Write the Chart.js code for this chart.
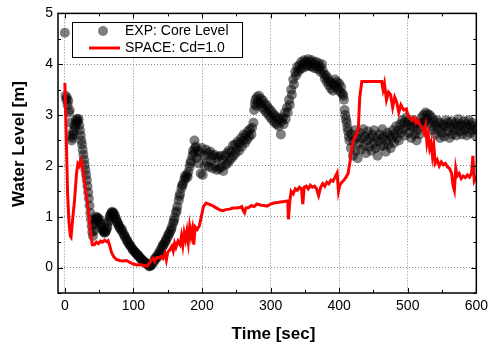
<!DOCTYPE html>
<html><head><meta charset="utf-8">
<script src="https://cdn.jsdelivr.net/npm/chart.js@4/dist/chart.umd.min.js"></script>
<style>html,body{margin:0;padding:0;background:#fff}#c{display:block}</style>
</head><body>
<canvas id="c" width="493" height="344"></canvas>
<script>
const xTicks = [0, 100, 200, 300, 400, 500, 600];
const yTicks = [0, 1, 2, 3, 4, 5];
const seriesNames = ['EXP: Core Level', 'SPACE: Cd=1.0'];
const axisTitles = ['Time [sec]', 'Water Level [m]'];

const expTime = [
  0,1,2,3,4,5,6,7,8,9,10,11,12,13,14,15,16,17,18,19,20,21,22,23,24,25,26,27,28,29,30,31,32,33,34,35,36,37,38,39,40,41,
  42,43,44,45,46,47,48,49,50,51,52,53,54,55,56,57,58,59,60,61,62,63,64,65,66,67,68,69,70,71,72,73,74,75,76,77,78,79,80,
  82,83,84,86,87,88,90,91,92,94,95,96,98,99,100,102,103,104,106,107,108,110,111,112,114,115,116,118,119,120,122,123,124,125,126,
  128,130,131,132,134,135,136,138,139,140,142,143,144,146,147,148,150,151,152,154,155,156,158,159,160,162,163,164,166,167,168,170,171,172,174,175,176,178,179,180,182,183,184,186,187,188,189,190,
  191,192,194,195,197,198,200,201,203,204,206,207,209,210,212,213,215,216,218,219,221,222,224,225,227,228,230,231,233,234,236,237,239,240,242,243,245,246,248,249,251,252,254,255,257,258,260,261,263,264,266,267,269,270,272,273,275,
  276,277,278,279,280,282,283,285,286,288,289,291,292,294,295,297,298,300,301,303,304,306,307,309,310,312,313,315,316,318,319,321,322,324,325,327,328,330,331,333,334,336,337,339,340,342,343,345,346,348,349,351,352,354,355,357,358,360,361,363,364,366,367,369,370,372,373,375,376,378,379,381,382,384,385,387,388,390,391,393,394,396,397,399,400,402,403,405,406,407,408,409,410,411,412,413,414,415,
  417,418,420,421,423,424,426,427,429,430,432,433,435,436,438,439,441,442,444,445,447,448,450,451,453,454,456,457,459,460,462,463,465,466,468,469,471,472,474,475,477,478,480,481,483,484,486,487,489,490,
  492,493,495,496,498,499,501,502,504,505,507,508,510,511,513,514,516,517,519,520,522,523,525,526,528,529,531,532,534,535,537,538,540,541,543,544,546,547,549,550,552,553,555,556,558,559,561,562,564,565,567,568,570,571,573,574,576,577,579,580,582,583,585,586,588,589,591,592,594,595,597,598,600
];
const expLevel = [
  4.62,3.38,3.30,3.34,3.20,3.28,3.05,3.10,2.85,2.60,2.50,2.55,2.68,2.62,2.80,2.75,2.90,2.85,2.93,2.88,2.92,2.80,2.70,2.60,2.50,2.42,2.32,2.22,2.12,2.02,1.92,1.82,1.72,1.60,1.48,1.36,1.22,1.08,0.95,0.82,0.70,0.62,
  0.72,0.85,0.90,0.95,1.00,0.97,0.98,0.93,0.95,0.88,0.86,0.80,0.78,0.74,0.72,0.70,0.68,0.70,0.72,0.76,0.80,0.88,0.92,0.98,1.02,1.05,1.08,1.10,1.07,1.08,1.02,1.03,0.96,0.95,0.90,0.88,0.84,0.82,0.78,
  0.74,0.76,0.70,0.66,0.62,0.60,0.55,0.53,0.50,0.46,0.44,0.42,0.38,0.35,0.34,0.31,0.29,0.28,0.25,0.24,0.22,0.19,0.17,0.16,0.14,0.12,0.11,0.09,0.08,0.07,0.05,0.02,0.03,0.05,0.04,
  0.08,0.12,0.18,0.16,0.22,0.20,0.26,0.31,0.28,0.36,0.40,0.45,0.44,0.50,0.52,0.56,0.60,0.65,0.66,0.72,0.75,0.80,0.88,0.92,0.98,1.08,1.12,1.20,1.32,1.40,1.45,1.56,1.62,1.64,1.72,1.80,1.76,1.82,1.78,1.88,1.98,2.05,2.10,2.20,2.30,2.25,2.50,2.35,
  2.38,2.15,2.30,2.05,2.25,1.85,2.35,1.82,2.20,2.00,2.32,2.08,2.25,1.98,2.28,2.10,2.20,1.95,2.22,2.00,2.15,1.92,2.18,1.95,2.20,1.98,2.12,1.90,2.20,2.02,2.25,2.05,2.30,2.10,2.28,2.15,2.40,2.20,2.42,2.25,2.35,2.48,2.30,2.45,2.55,2.38,2.50,2.62,2.45,2.60,2.52,2.68,2.58,2.72,2.62,2.75,2.85,
  3.10,3.22,3.30,3.18,3.35,3.25,3.38,3.22,3.32,3.15,3.28,3.10,3.22,3.05,3.18,3.00,3.12,2.95,3.08,2.90,3.02,2.85,2.98,2.82,2.95,2.78,2.92,2.62,2.88,2.95,2.82,3.05,2.92,3.15,3.05,3.30,3.20,3.50,3.40,3.70,3.60,3.85,3.78,3.95,3.85,3.98,3.90,4.05,3.92,4.00,4.08,3.95,4.05,3.98,4.10,3.96,4.04,4.08,3.95,4.02,3.92,4.05,3.96,3.90,4.02,3.95,3.85,4.00,3.88,3.80,3.72,3.78,3.65,3.72,3.58,3.65,3.52,3.62,3.48,3.58,3.70,3.55,3.65,3.50,3.62,3.45,3.55,3.42,3.38,3.30,3.10,3.00,2.92,2.85,2.75,2.68,2.58,2.50,
  2.35,2.62,2.20,2.48,2.70,2.30,2.55,2.15,2.45,2.65,2.32,2.55,2.72,2.40,2.58,2.25,2.50,2.68,2.38,2.55,2.30,2.62,2.45,2.70,2.35,2.55,2.20,2.48,2.62,2.38,2.55,2.72,2.40,2.58,2.28,2.50,2.65,2.42,2.60,2.35,2.55,2.70,2.45,2.62,2.78,2.55,2.70,2.50,2.82,2.65,
  2.90,2.72,2.85,2.60,2.95,2.78,2.88,2.65,2.80,2.55,2.75,2.90,2.62,2.80,2.50,2.70,2.85,2.62,2.78,2.95,2.85,3.00,2.88,3.05,2.92,3.02,2.85,3.00,2.78,2.95,2.70,2.88,2.62,2.80,2.90,2.72,2.85,2.55,2.75,2.65,2.82,2.58,2.78,2.90,2.68,2.85,2.55,2.75,2.88,2.62,2.80,2.70,2.85,2.60,2.78,2.92,2.68,2.82,2.62,2.78,2.88,2.70,2.82,2.60,2.75,2.90,2.65,2.80,2.85,2.70,2.78,2.60,2.72
];

const spaceTime = [0,2,4,6,8,9,11,14,17,19,21,23,25,28,31,34,37,40,43,46,49,52,55,58,61,63,65,68,71,75,80,85,90,95,100,105,110,115,120,123,126,129,131,134,137,140,143,146,148,150,153,156,158,160,162,165,168,170,172,174,176,178,180,182,184,186,188,190,193,196,199,202,206,210,215,220,225,230,235,240,245,250,255,258,260,262,264,268,272,276,280,285,290,295,300,305,310,315,320,325,326,328,330,333,336,339,342,345,347,349,352,355,358,361,364,367,370,373,376,379,382,385,388,391,394,397,399,401,404,407,410,413,416,419,422,425,428,430,433,440,450,458,462,464,466,469,472,475,478,481,484,487,490,494,498,500,503,506,509,512,515,518,521,524,526,528,530,532,534,536,538,540,543,546,549,552,555,558,561,564,566,568,570,572,575,578,581,584,587,590,593,595,597,599,600];
const spaceLevel = [3.63,2.60,1.45,0.90,0.62,0.60,0.90,1.31,1.85,2.04,2.00,2.12,2.05,1.77,1.45,1.15,0.75,0.45,0.45,0.50,0.47,0.52,0.50,0.54,0.51,0.53,0.45,0.30,0.22,0.16,0.14,0.13,0.14,0.10,0.07,0.05,0.06,0.04,0.03,0.08,0.15,0.18,0.12,0.20,0.19,0.22,0.18,0.28,0.15,0.30,0.35,0.42,0.33,0.48,0.40,0.52,0.45,0.62,0.44,0.68,0.55,0.72,0.50,0.80,0.62,0.76,0.45,0.80,0.75,0.82,1.00,1.20,1.27,1.25,1.22,1.18,1.14,1.12,1.14,1.15,1.17,1.17,1.18,1.20,1.12,1.08,1.17,1.18,1.22,1.20,1.25,1.23,1.22,1.21,1.25,1.27,1.28,1.29,1.30,1.31,0.95,1.30,1.50,1.45,1.55,1.52,1.58,1.55,1.25,1.58,1.60,1.55,1.62,1.58,1.60,1.55,1.42,1.58,1.65,1.60,1.68,1.65,1.72,1.70,1.78,1.86,1.50,1.62,1.68,1.72,1.78,1.85,2.10,2.40,2.55,2.62,2.75,3.35,3.66,3.66,3.66,3.66,3.66,3.50,3.62,3.30,3.45,3.40,3.15,3.35,3.25,3.05,3.20,3.10,3.12,3.00,2.95,2.90,2.95,2.85,2.90,2.80,2.75,2.65,2.78,2.45,2.60,2.35,2.45,2.20,2.40,2.05,2.12,2.00,2.08,2.02,2.05,1.98,1.95,1.85,1.62,1.52,1.95,1.80,1.85,1.75,1.80,1.77,1.82,1.78,1.85,2.20,1.70,1.75,1.72];

const FONT = "'Liberation Sans', Arial, sans-serif";

const expData = expTime.map((t, i) => ({x: t, y: expLevel[i]}));
const spaceData = spaceTime.map((t, i) => ({x: t, y: spaceLevel[i]}));

const framePlugin = {
  id: 'frame',
  afterDatasetsDraw(chart) {
    const ctx = chart.ctx, a = chart.chartArea;
    const xs = chart.scales.x, ys = chart.scales.y;
    ctx.save();
    ctx.strokeStyle = '#000';
    ctx.lineWidth = 1.5;
    ctx.strokeRect(a.left, a.top, a.right - a.left, a.bottom - a.top);
    ctx.lineWidth = 1;
    ctx.beginPath();
    for (let v = 0; v <= 600; v += 50) {
      const px = Math.round(xs.getPixelForValue(v)) + 0.5;
      const L = (v % 100 === 0) ? 5 : 3;
      ctx.moveTo(px, a.bottom); ctx.lineTo(px, a.bottom - L);
      ctx.moveTo(px, a.top); ctx.lineTo(px, a.top + L);
    }
    for (let k = -1; k <= 10; k++) {
      const v = k / 2;
      const py = Math.round(ys.getPixelForValue(v)) + 0.5;
      const L = (k % 2 === 0) ? 5 : 3;
      ctx.moveTo(a.left, py); ctx.lineTo(a.left + L, py);
      ctx.moveTo(a.right, py); ctx.lineTo(a.right - L, py);
    }
    ctx.stroke();
    const ds = chart.data.datasets;
    ctx.fillStyle = '#fff';
    ctx.fillRect(72, 22, 170, 35);
    ctx.strokeStyle = '#000';
    ctx.lineWidth = 1;
    ctx.strokeRect(72.5, 22.5, 170, 35);
    ctx.fillStyle = ds[0].backgroundColor;
    ctx.beginPath(); ctx.arc(103, 31, 5, 0, Math.PI * 2); ctx.fill();
    ctx.strokeStyle = ds[1].borderColor;
    ctx.lineWidth = 3;
    ctx.beginPath(); ctx.moveTo(89, 48); ctx.lineTo(120, 48); ctx.stroke();
    ctx.fillStyle = '#000';
    ctx.font = '14px ' + FONT;
    ctx.textBaseline = 'middle';
    ctx.textAlign = 'left';
    ctx.fillText(ds[0].label, 125, 31);
    ctx.fillText(ds[1].label, 125, 48);
    ctx.font = 'bold 17px ' + FONT;
    ctx.textAlign = 'center';
    ctx.fillText(axisTitles[0], 273.5, 334);
    ctx.translate(19, 144);
    ctx.rotate(-Math.PI / 2);
    ctx.fillText(axisTitles[1], 0, 0);
    ctx.restore();
  }
};

new Chart(document.getElementById('c'), {
  type: 'scatter',
  data: {
    datasets: [
      {
        label: seriesNames[0],
        data: expData,
        backgroundColor: 'rgba(0,0,0,0.5)',
        borderWidth: 0,
        pointRadius: 5,
        pointHoverRadius: 5,
        showLine: false,
        order: 1
      },
      {
        label: seriesNames[1],
        data: spaceData,
        borderColor: '#ff0000',
        backgroundColor: '#ff0000',
        borderWidth: 3,
        pointRadius: 0,
        showLine: true,
        tension: 0,
        order: 0
      }
    ]
  },
  options: {
    responsive: false,
    animation: false,
    events: [],
    layout: {padding: {left: 0, right: 12, top: 12, bottom: 0}},
    plugins: {legend: {display: false}, tooltip: {enabled: false}},
    scales: {
      x: {
        type: 'linear', min: -10, max: 600,
        afterBuildTicks: s => { s.ticks = xTicks.map(v => ({value: v})); },
        afterFit: s => { s.height = 51; },
        grid: {color: '#888', drawTicks: false, lineWidth: 1},
        border: {display: false, dash: [1, 2]},
        ticks: {color: '#000', font: {family: FONT, size: 14}, padding: 5, maxRotation: 0}
      },
      y: {
        type: 'linear', min: -0.5, max: 5,
        afterBuildTicks: s => { s.ticks = yTicks.map(v => ({value: v})); },
        afterFit: s => { s.width = 58; },
        grid: {color: '#888', drawTicks: false, lineWidth: 1},
        border: {display: false, dash: [1, 2]},
        ticks: {color: '#000', font: {family: FONT, size: 14}, padding: 5}
      }
    }
  },
  plugins: [framePlugin]
});
</script>
</body></html>
